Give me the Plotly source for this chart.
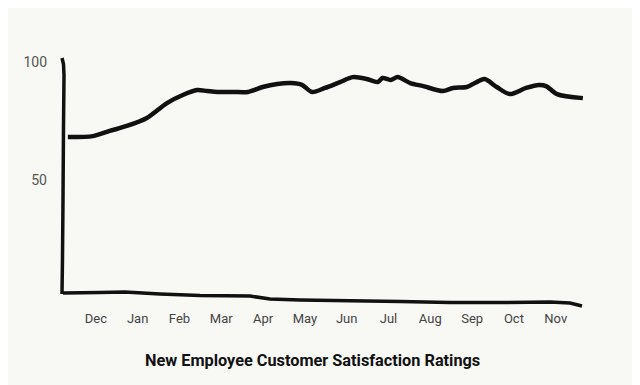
import plotly.graph_objects as go

months = ["Dec", "Jan", "Feb", "Mar", "Apr", "May", "Jun", "Jul", "Aug", "Sep", "Oct", "Nov"]
# x positions in months (0 = Dec)
month_pos = [-0.67, -0.07, 0.33, 0.74, 1.22, 1.70, 2.08, 2.42, 2.66, 2.90, 3.28, 3.64, 3.99, 4.34, 4.67, 4.93, 5.17, 5.48,
             5.84, 6.15, 6.48, 6.74, 6.86, 7.05, 7.22, 7.52, 7.83, 8.30, 8.54, 8.87, 9.11, 9.30, 9.59, 9.90, 10.29, 10.60, 10.77, 11.03, 11.65]
ratings = [68.2, 68.6, 70.8, 72.9, 76.3, 82.6, 86.0, 88.1, 87.7, 87.3, 87.3, 87.3, 89.4, 90.7, 91.1, 90.3, 87.3, 89.0,
           91.5, 93.6, 92.8, 91.5, 93.2, 92.4, 93.6, 91.1, 89.8, 87.7, 89.0, 89.4, 91.5, 92.8, 89.4, 86.4, 89.0, 90.3, 89.8, 86.4, 84.7]
y_ticks = [50, 100]
title = "New Employee Customer Satisfaction Ratings"

# page has an 8px body margin; work in screen pixels and shift
OFF = 8
W, H = 640 - OFF, 385 - OFF
L, R, T, B = 62 - OFF, 50, 58 - OFF, 87

def px(x, y):
    x -= OFF
    y -= OFF
    return (x - L) / (W - L - R), (H - B - y) / (H - T - B)

def path(points):
    pts = [px(x, y) for x, y in points]
    s = "M %.4f %.4f" % pts[0]
    for p in pts[1:]:
        s += " L %.4f %.4f" % p
    return s

fig = go.Figure()
fig.add_trace(go.Scatter(
    x=month_pos, y=ratings, mode="lines",
    line=dict(color="#111111", width=4.5, shape="spline", smoothing=0.8),
    hoverinfo="skip", showlegend=False))

yaxis_path = [(62, 58), (63.5, 64), (64, 75), (63.5, 130), (63, 200), (62.5, 260), (62, 294)]
xaxis_path = [(63, 293), (100, 292.5), (125, 292), (160, 294), (200, 295.5), (250, 296), (270, 299),
              (300, 300), (400, 301.5), (450, 302.5), (500, 302.5), (550, 302), (570, 303), (582, 306)]

font_family = "Roboto, Lato, sans-serif"

fig.update_layout(
    width=W, height=H,
    margin=dict(l=L, r=R, t=T, b=B),
    paper_bgcolor="#f8f8f4", plot_bgcolor="#f8f8f4",
    font=dict(family=font_family, color="#555555"),
    xaxis=dict(range=[-0.81, 11.82], tickvals=list(range(12)), ticktext=months,
               showgrid=False, zeroline=False, showline=False, ticks="",
               tickfont=dict(size=13, color="#444444"), ticklabelstandoff=11, fixedrange=True),
    yaxis=dict(range=[0, 101.7], tickvals=y_ticks, showgrid=False, zeroline=False, showline=False,
               ticks="", tickfont=dict(size=14, color="#555555"), ticklabelstandoff=14, fixedrange=True),
    shapes=[
        dict(type="path", xref="paper", yref="paper", path=path(yaxis_path),
             line=dict(color="#111111", width=3.5)),
        dict(type="path", xref="paper", yref="paper", path=path(xaxis_path),
             line=dict(color="#111111", width=3.5)),
    ],
    annotations=[dict(text=title, xref="paper", yref="paper", x=px(312, 0)[0],
                      y=px(0, 360)[1], showarrow=False, xanchor="center", yanchor="middle",
                      font=dict(size=16.3, color="#111111", family=font_family, weight="bold"))],
)

fig.write_html("out.html")
